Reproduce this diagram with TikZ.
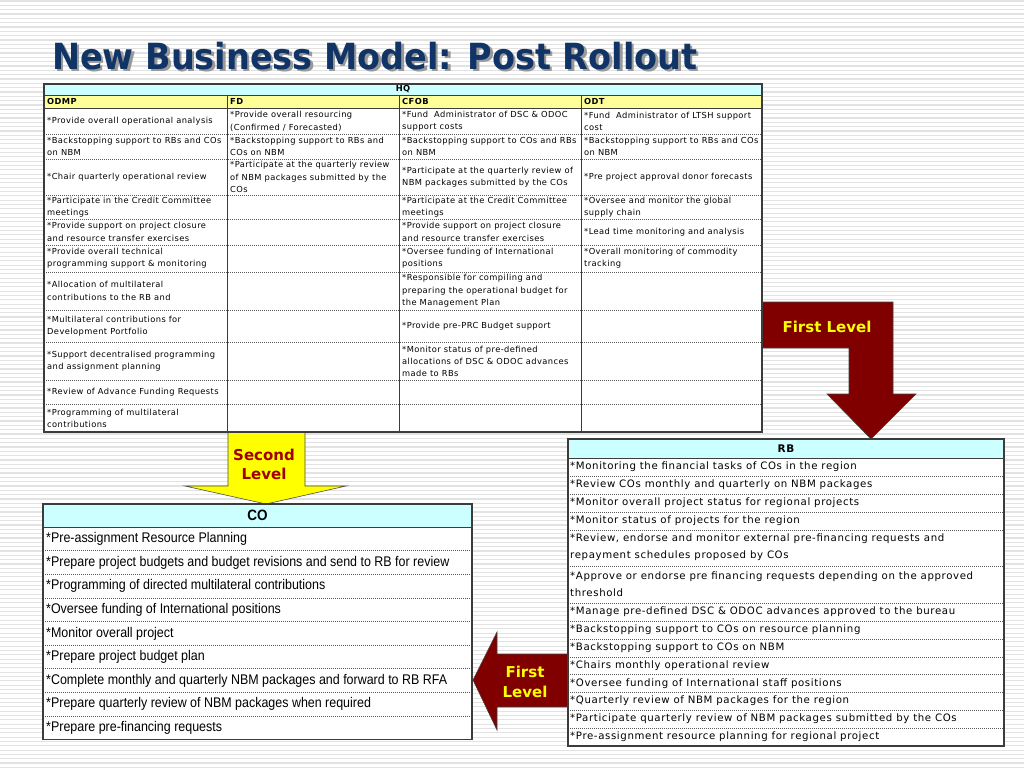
\documentclass[tikz,border=0pt]{standalone}
\usepackage{fontspec}
\setmainfont{DejaVu Sans}
\newfontfamily\hqfont[LetterSpace=5]{DejaVu Sans}
\newfontfamily\rbfont[LetterSpace=6]{DejaVu Sans}
\newfontfamily\cofont[FakeStretch=0.89]{Liberation Sans}
\newfontfamily\cobfont[FakeStretch=0.9]{Liberation Sans Bold}
\newfontfamily\titlefont[FakeStretch=0.93]{DejaVu Sans Bold}
\definecolor{navy}{RGB}{16,52,102}
\definecolor{hqcyan}{RGB}{204,255,255}
\definecolor{hqyellow}{RGB}{255,255,153}
\definecolor{arrowred}{RGB}{128,0,0}
\definecolor{arrowyellow}{RGB}{255,255,0}
\definecolor{lvltext}{RGB}{160,0,0}
\definecolor{stripecol}{RGB}{226,226,226}
\definecolor{gridcol}{RGB}{60,60,60}
\newcommand{\titletext}{New Business Model: Post Rollout}
\tikzset{
  stripeline/.style={draw=stripecol, line width=1.2pt},
  dotrule/.style={draw=black!65, line width=0.6pt, dash pattern=on 1pt off 1pt},
  solidrule/.style={draw=gridcol, line width=0.8pt},
  frame/.style={draw=gridcol, line width=1.2pt},
  titlestyle/.style={font=\titlefont\fontsize{36}{40}\selectfont, inner sep=0pt, anchor=base west},
  hq/.style={font=\hqfont\fontsize{8.3}{12.3}\selectfont, align=left, inner sep=0pt, anchor=west},
  hqbold/.style={font=\hqfont\bfseries\fontsize{8.3}{12.3}\selectfont, inner sep=0pt},
  rb/.style={font=\rbfont\fontsize{10.2}{16.8}\selectfont, align=left, inner sep=0pt, anchor=west},
  rbbold/.style={font=\rbfont\bfseries\fontsize{10.5}{12}\selectfont, inner sep=0pt},
  co/.style={font=\cofont\fontsize{14}{16}\selectfont, inner sep=0pt, anchor=west},
  cobold/.style={font=\cobfont\fontsize{15}{16}\selectfont, inner sep=0pt},
  lvl/.style={font=\bfseries\fontsize{15}{19.5}\selectfont, align=center, inner sep=0pt},
  redarrow/.style={fill=arrowred, draw=black!75, line width=0.6pt},
  yelarrow/.style={fill=arrowyellow, draw=black!70, line width=0.6pt}
}
\begin{document}
\begin{tikzpicture}[x=1pt,y=-1pt]
\useasboundingbox (0,0) rectangle (1024,768);
\fill[white] (0,0) rectangle (1024,768);
\foreach \i in {0,...,177} { \draw[stripeline] (0,{\i*4.33+1}) -- (1024,{\i*4.33+1}); }

% title (with drop shadow in the same text node)
\node[titlestyle, text=navy] (title) at (52,69) {\rlap{\hspace{2.5pt}\raisebox{-2.5pt}{\textcolor{black!40}{\titletext}}}\titletext};

% arrows
\draw[redarrow] (762,302) -- (893,302) -- (893,394) -- (916,394) -- (871,439) -- (827,394) -- (849,394) -- (849,348) -- (762,348) -- cycle;
\node[lvl, text=arrowyellow] (lvlone) at (827,327) {First Level};
\draw[yelarrow] (228,432) -- (305,432) -- (305,486) -- (346,486) -- (266,504) -- (185,486) -- (228,486) -- cycle;
\node[lvl, text=lvltext] (lvltwo) at (264,464.5) {Second\\Level};
\draw[redarrow] (568,654) -- (497,654) -- (497,632) -- (473,680) -- (497,730) -- (497,707) -- (568,707) -- cycle;
\node[lvl, text=arrowyellow] (lvlthree) at (525,682) {First\\Level};

% ===== HQ table =====
\fill[hqcyan] (44,84) rectangle (762,95);
\fill[hqyellow] (44,95) rectangle (762,108);
\fill[white] (44,108) rectangle (762,432);
\foreach \y in {134,159,195,219,245,272,310,342,380,404} { \draw[dotrule] (44,\y) -- (762,\y); }
\draw[solidrule] (44,95) -- (762,95);
\draw[solidrule] (44,108) -- (762,108);
\foreach \x in {227,399,581} { \draw[solidrule] (\x,95) -- (\x,432); }
\draw[frame] (44,84) rectangle (762,432);
\node[hqbold] (hqhead) at (403,89.5) {HQ};
\node[hqbold, anchor=west] (hodmp) at (47,101.5) {ODMP};
\node[hqbold, anchor=west] (hfd) at (230,101.5) {FD};
\node[hqbold, anchor=west] (hcfob) at (402,101.5) {CFOB};
\node[hqbold, anchor=west] (hodt) at (584,101.5) {ODT};
% ODMP
\node[hq] (a1) at (47,121) {*Provide overall operational analysis};
\node[hq] (a2) at (47,146.5) {*Backstopping support to RBs and COs\\on NBM};
\node[hq] (a3) at (47,177) {*Chair quarterly operational review};
\node[hq] (a4) at (47,207) {*Participate in the Credit Committee\\meetings};
\node[hq] (a5) at (47,232) {*Provide support on project closure\\and resource transfer exercises};
\node[hq] (a6) at (47,258.5) {*Provide overall technical\\programming support \& monitoring};
\node[hq] (a7) at (47,291) {*Allocation of multilateral\\contributions to the RB and};
\node[hq] (a8) at (47,326) {*Multilateral contributions for\\Development Portfolio};
\node[hq] (a9) at (47,361) {*Support decentralised programming\\and assignment planning};
\node[hq] (a10) at (47,392) {*Review of Advance Funding Requests};
\node[hq] (a11) at (47,418.5) {*Programming of multilateral\\contributions};
% FD
\node[hq] (b1) at (230,121.5) {*Provide overall resourcing\\(Confirmed / Forecasted)};
\node[hq] (b2) at (230,146.5) {*Backstopping support to RBs and\\COs on NBM};
\node[hq] (b3) at (230,177) {*Participate at the quarterly review\\of NBM packages submitted by the\\COs};
% CFOB
\node[hq] (c1) at (402,121.5) {*Fund\ \ Administrator of DSC \& ODOC\\support costs};
\node[hq] (c2) at (402,146.5) {*Backstopping support to COs and RBs\\on NBM};
\node[hq] (c3) at (402,177) {*Participate at the quarterly review of\\NBM packages submitted by the COs};
\node[hq] (c4) at (402,207) {*Participate at the Credit Committee\\meetings};
\node[hq] (c5) at (402,232) {*Provide support on project closure\\and resource transfer exercises};
\node[hq] (c6) at (402,258.5) {*Oversee funding of International\\positions};
\node[hq] (c7) at (402,291) {*Responsible for compiling and\\preparing the operational budget for\\the Management Plan};
\node[hq] (c8) at (402,326) {*Provide pre-PRC Budget support};
\node[hq] (c9) at (402,361.5) {*Monitor status of pre-defined\\allocations of DSC \& ODOC advances\\made to RBs};
% ODT
\node[hq] (d1) at (584,121.5) {*Fund\ \ Administrator of LTSH support\\cost};
\node[hq] (d2) at (584,146.5) {*Backstopping support to RBs and COs\\on NBM};
\node[hq] (d3) at (584,177) {*Pre project approval donor forecasts};
\node[hq] (d4) at (584,207) {*Oversee and monitor the global\\supply chain};
\node[hq] (d5) at (584,232) {*Lead time monitoring and analysis};
\node[hq] (d6) at (584,258.5) {*Overall monitoring of commodity\\tracking};

% ===== RB table =====
\fill[hqcyan] (568,439) rectangle (1004,458);
\fill[white] (568,458) rectangle (1004,746);
\foreach \y in {476,494,512,530,566,603,621,639,657,674,692,710,728} { \draw[dotrule] (568,\y) -- (1004,\y); }
\draw[solidrule] (568,458) -- (1004,458);
\draw[frame] (568,439) rectangle (1004,746);
\node[rbbold] (rbhead) at (786,449) {RB};
\node[rb] (rb1) at (570,467) {*Monitoring the financial tasks of COs in the region};
\node[rb] (rb2) at (570,485) {*Review COs monthly and quarterly on NBM packages};
\node[rb] (rb3) at (570,503) {*Monitor overall project status for regional projects};
\node[rb] (rb4) at (570,521) {*Monitor status of projects for the region};
\node[rb] (rb5) at (570,547) {*Review, endorse and monitor external pre-financing requests and\\repayment schedules proposed by COs};
\node[rb] (rb6) at (570,584.5) {*Approve or endorse pre financing requests depending on the approved\\threshold};
\node[rb] (rb7) at (570,612) {*Manage pre-defined DSC \& ODOC advances approved to the bureau};
\node[rb] (rb8) at (570,630) {*Backstopping support to COs on resource planning};
\node[rb] (rb9) at (570,648) {*Backstopping support to COs on NBM};
\node[rb] (rb10) at (570,666) {*Chairs monthly operational review};
\node[rb] (rb11) at (570,683.5) {*Oversee funding of International staff positions};
\node[rb] (rb12) at (570,701) {*Quarterly review of NBM packages for the region};
\node[rb] (rb13) at (570,719) {*Participate quarterly review of NBM packages submitted by the COs};
\node[rb] (rb14) at (570,737) {*Pre-assignment resource planning for regional project};

% ===== CO table =====
\fill[hqcyan] (43,504) rectangle (472,527);
\fill[white] (43,527) rectangle (472,739.5);
\foreach \i in {1,...,8} { \draw[dotrule] (43,{527+\i*23.6}) -- (472,{527+\i*23.6}); }
\draw[solidrule] (43,527) -- (472,527);
\draw[frame] (43,504) rectangle (472,739.5);
\node[cobold] (cohead) at (257.5,515.5) {CO};
\node[co] (co1) at (46,539) {*Pre-assignment Resource Planning};
\node[co] (co2) at (46,562.6) {*Prepare project budgets and budget revisions and send to RB for review};
\node[co] (co3) at (46,586.2) {*Programming of directed multilateral contributions};
\node[co] (co4) at (46,609.8) {*Oversee funding of International positions};
\node[co] (co5) at (46,633.4) {*Monitor overall project};
\node[co] (co6) at (46,657) {*Prepare project budget plan};
\node[co] (co7) at (46,680.6) {*Complete monthly and quarterly NBM packages and forward to RB RFA};
\node[co] (co8) at (46,704.2) {*Prepare quarterly review of NBM packages when required};
\node[co] (co9) at (46,727.8) {*Prepare pre-financing requests};
\end{tikzpicture}
\end{document}
